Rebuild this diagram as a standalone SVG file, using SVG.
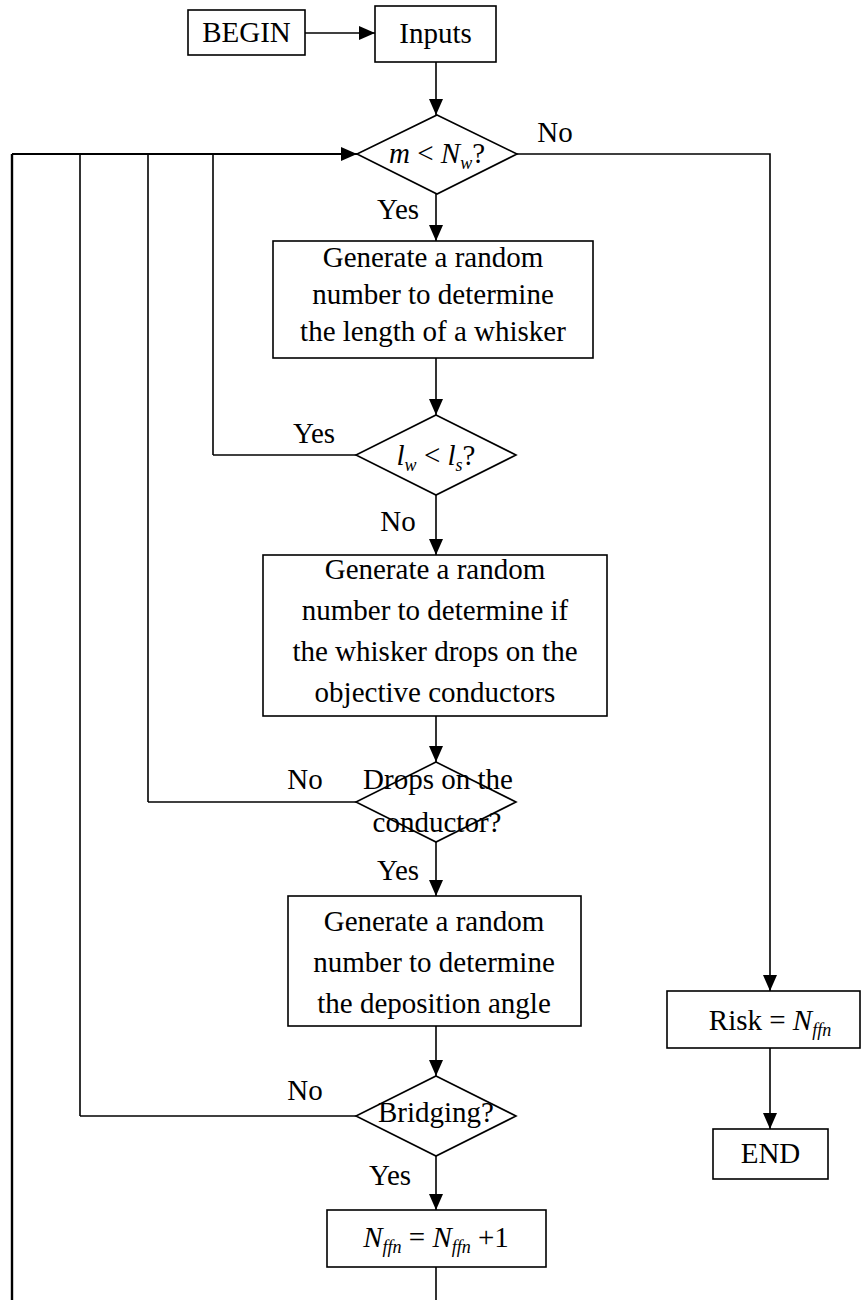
<svg xmlns="http://www.w3.org/2000/svg" width="861" height="1300" viewBox="0 0 861 1300">
  <defs>
    <marker id="arrow" viewBox="0 0 16 14" refX="16" refY="7" markerWidth="16" markerHeight="14" markerUnits="userSpaceOnUse" orient="auto">
      <path d="M0,0 L16,7 L0,14 Z" fill="#000"/>
    </marker>
    <style>
      .box { fill: #fff; stroke: #000; stroke-width: 1.6; }
      .line { fill: none; stroke: #000; stroke-width: 1.6; }
      .arr { fill: none; stroke: #000; stroke-width: 1.6; marker-end: url(#arrow); }
      text { font-family: "Liberation Serif", "Times New Roman", serif; font-size: 29px; fill: #000; }
      .c { text-anchor: middle; }
      .i { font-style: italic; }
      .sub { font-size: 18px; font-style: italic; }
    </style>
  </defs>

  <!-- connectors -->
  <g id="connectors">
    <line class="arr" x1="305" y1="33" x2="375" y2="33"/>
    <line class="arr" x1="436" y1="62" x2="436" y2="115"/>
    <!-- loop-back lines feeding the m < Nw test -->
    <line class="line" x1="12" y1="154" x2="12" y2="1300" style="stroke-width:2.4"/>
    <line class="arr" x1="12" y1="154" x2="357" y2="154" style="stroke-width:2.2"/>
    <line class="line" x1="80" y1="154" x2="80" y2="1116"/>
    <line class="line" x1="148" y1="154" x2="148" y2="802"/>
    <line class="line" x1="213" y1="154" x2="213" y2="455"/>
    <line class="line" x1="213" y1="455" x2="356" y2="455"/>
    <line class="line" x1="148" y1="802" x2="356" y2="802"/>
    <line class="line" x1="80" y1="1116" x2="356" y2="1116"/>
    <!-- main column -->
    <line class="arr" x1="436" y1="194" x2="436" y2="241"/>
    <line class="arr" x1="436" y1="358" x2="436" y2="415"/>
    <line class="arr" x1="436" y1="495" x2="436" y2="555"/>
    <line class="arr" x1="436" y1="716" x2="436" y2="762"/>
    <line class="arr" x1="436" y1="842" x2="436" y2="896"/>
    <line class="arr" x1="436" y1="1026" x2="436" y2="1076"/>
    <line class="arr" x1="436" y1="1156" x2="436" y2="1210"/>
    <line class="line" x1="436" y1="1267" x2="436" y2="1300"/>
    <!-- exit branch -->
    <polyline class="arr" points="517,154 770,154 770,991"/>
    <line class="arr" x1="770" y1="1048" x2="770" y2="1129"/>
  </g>

  <g id="begin">
    <rect class="box" x="188" y="10" width="117" height="45"/>
    <text class="c" x="246.5" y="42">BEGIN</text>
  </g>

  <g id="inputs">
    <rect class="box" x="375" y="6" width="121" height="56"/>
    <text class="c" x="435.5" y="43">Inputs</text>
  </g>

  <g id="test-count">
    <polygon class="box" points="437,115 517,154 437,194 357,154"/>
    <text class="c" x="437" y="163"><tspan class="i">m</tspan> &lt; <tspan class="i">N</tspan><tspan class="sub" dy="6">w</tspan><tspan dy="-6">?</tspan></text>
  </g>

  <g id="gen-length">
    <rect class="box" x="273" y="241" width="320" height="117"/>
    <text class="c" x="433" y="267">Generate a random</text>
    <text class="c" x="433" y="304">number to determine</text>
    <text class="c" x="433" y="341">the length of a whisker</text>
  </g>

  <g id="test-length">
    <polygon class="box" points="436,415 516,455 436,495 356,455"/>
    <text class="c" x="436" y="465"><tspan class="i">l</tspan><tspan class="sub" dy="6">w</tspan><tspan dy="-6"> &lt; </tspan><tspan class="i">l</tspan><tspan class="sub" dy="6">s</tspan><tspan dy="-6">?</tspan></text>
  </g>

  <g id="gen-drop">
    <rect class="box" x="263" y="555" width="344" height="161"/>
    <text class="c" x="435" y="579">Generate a random</text>
    <text class="c" x="435" y="620">number to determine if</text>
    <text class="c" x="435" y="661">the whisker drops on the</text>
    <text class="c" x="435" y="702">objective conductors</text>
  </g>

  <g id="test-drop">
    <polygon class="box" points="436,762 516,802 436,842 356,802"/>
    <text class="c" x="438" y="789">Drops on the</text>
    <text class="c" x="437" y="832">conductor?</text>
  </g>

  <g id="gen-angle">
    <rect class="box" x="288" y="896" width="293" height="130"/>
    <text class="c" x="434" y="931">Generate a random</text>
    <text class="c" x="434" y="972">number to determine</text>
    <text class="c" x="434" y="1013">the deposition angle</text>
  </g>

  <g id="test-bridge">
    <polygon class="box" points="436,1076 516,1116 436,1156 356,1116"/>
    <text class="c" x="436" y="1122">Bridging?</text>
  </g>

  <g id="count-failure">
    <rect class="box" x="327" y="1210" width="219" height="57"/>
    <text class="c" x="436" y="1247"><tspan class="i">N</tspan><tspan class="sub" dy="6">ffn</tspan><tspan dy="-6"> = </tspan><tspan class="i">N</tspan><tspan class="sub" dy="6">ffn</tspan><tspan dy="-6"> +1</tspan></text>
  </g>

  <g id="risk">
    <rect class="box" x="667" y="991" width="193" height="57"/>
    <text class="c" x="770" y="1030">Risk = <tspan class="i">N</tspan><tspan class="sub" dy="6">ffn</tspan></text>
  </g>

  <g id="end">
    <rect class="box" x="713" y="1129" width="115" height="50"/>
    <text class="c" x="770.5" y="1163">END</text>
  </g>

  <!-- branch labels -->
  <g id="labels">
    <text class="c" x="555" y="142">No</text>
    <text class="c" x="398" y="219">Yes</text>
    <text class="c" x="314" y="443">Yes</text>
    <text class="c" x="398" y="531">No</text>
    <text class="c" x="305" y="789">No</text>
    <text class="c" x="398" y="880">Yes</text>
    <text class="c" x="305" y="1100">No</text>
    <text class="c" x="390" y="1185">Yes</text>
  </g>
</svg>
